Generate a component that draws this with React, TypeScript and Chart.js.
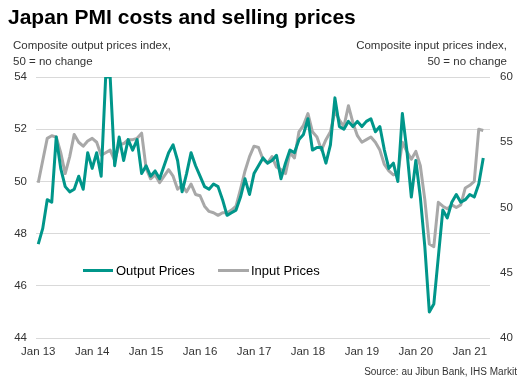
import React, { useEffect, useRef } from "react";
import { Chart, registerables } from "chart.js";

Chart.register(...registerables);

const titleText = "Japan PMI costs and selling prices";
const leftAxisTitle = ["Composite output prices index,", "50 = no change"];
const rightAxisTitle = ["Composite input prices index,", "50 = no change"];
const sourceText = "Source: au Jibun Bank, IHS Markit";
const seriesNames = ["Output Prices", "Input Prices"];

const startYear = 2013;
const monthNames = ["Jan", "Feb", "Mar", "Apr", "May", "Jun", "Jul", "Aug", "Sep", "Oct", "Nov", "Dec"];

// Composite output prices index (left axis), Jan 2013 - Apr 2021
const outputPrices = [
  47.6, 48.2, 49.3, 49.2, 51.7, 50.5, 49.8, 49.6, 49.7, 50.2, 49.7, 51.1,
  50.5, 51.1, 50.2, 54.0, 54.0, 50.6, 51.7, 50.8, 51.6, 51.2, 51.6, 50.3,
  50.6, 50.2, 50.4, 50.1, 50.6, 51.1, 51.4, 50.8, 49.6, 50.3, 51.1, 50.6,
  50.2, 49.8, 49.7, 49.9, 49.8, 49.3, 48.7, 48.8, 48.9, 49.4, 50.1, 49.5,
  50.3, 50.6, 50.9, 50.7, 50.8, 51.0, 50.1, 50.7, 51.2, 51.1, 51.6, 51.8,
  52.4, 51.2, 51.3, 51.3, 50.7, 51.4, 53.2, 52.1, 52.0, 52.3, 52.1, 52.3,
  52.1, 52.3, 52.4, 51.9, 52.1, 51.2, 50.5, 50.7, 50.0, 52.6, 51.2, 49.4,
  50.8, 49.4, 47.5, 45.0, 45.3, 47.1, 48.9, 48.6, 49.2, 49.5, 49.2, 49.3,
  49.5, 49.4, 49.9, 50.9,
];

// Composite input prices index (right axis), Jan 2013 - Apr 2021
const inputPrices = [
  51.9, 53.6, 55.3, 55.5, 55.4, 54.2, 52.6, 53.9, 55.6, 55.0, 54.7, 55.1,
  55.3, 55.0, 54.0, 54.2, 54.4, 53.6, 54.8, 54.9, 55.2, 55.2, 55.3, 55.7,
  53.0, 52.2, 52.5, 51.9, 52.4, 52.9, 52.4, 51.4, 51.7, 51.2, 51.8, 51.0,
  50.9, 50.1, 49.7, 49.6, 49.4, 49.6, 49.6, 49.8, 50.1, 51.4, 52.8, 53.9,
  54.7, 54.6, 53.7, 53.4, 53.9, 53.1, 52.9, 52.6, 54.2, 53.8, 55.8, 56.3,
  57.2, 55.8, 55.4, 54.4, 55.2, 55.8, 57.4, 56.7, 56.2, 57.8, 56.5, 55.5,
  55.0, 55.2, 55.4, 55.0, 54.4, 53.3, 52.8, 52.5, 52.6, 55.0, 54.3, 53.7,
  54.3, 53.2, 50.6, 47.2, 47.0, 50.4, 50.1, 49.9, 50.2, 50.0, 50.2, 51.5,
  51.7, 52.0, 56.0, 55.9,
];

const leftTicks = { min: 44, max: 54, step: 2 };
const rightTicks = { min: 40, max: 60, step: 5 };

// month categories (one trailing month of axis space after the last data point)
const months = Array.from({ length: outputPrices.length + 1 }, (_, i) =>
  `${monthNames[i % 12]} ${String((startYear + Math.floor(i / 12)) % 100).padStart(2, "0")}`
);

const FONT = "'Liberation Sans', Arial, Helvetica, sans-serif";
const TEAL = "#00968A";
const GREY = "#A8A8A8";
const TEXT = "#333333";

export default function App() {
  const canvasRef = useRef<HTMLCanvasElement | null>(null);

  useEffect(() => {
    const canvas = canvasRef.current;
    if (!canvas) return;
    const chart = new Chart(canvas, {
      type: "line",
      data: {
        labels: months,
        datasets: [
          {
            label: seriesNames[0],
            data: outputPrices,
            yAxisID: "y",
            borderColor: TEAL,
            backgroundColor: TEAL,
            borderWidth: 3,
            pointRadius: 0,
            tension: 0,
            borderJoinStyle: "round",
          },
          {
            label: seriesNames[1],
            data: inputPrices,
            yAxisID: "y2",
            borderColor: GREY,
            backgroundColor: GREY,
            borderWidth: 3,
            pointRadius: 0,
            tension: 0,
            borderJoinStyle: "round",
          },
        ],
      },
      options: {
        animation: false,
        responsive: false,
        maintainAspectRatio: false,
        layout: { padding: { top: 77, left: 0, right: 0, bottom: 0 } },
        plugins: {
          legend: { display: false },
          tooltip: { enabled: false },
          title: { display: false },
        },
        scales: {
          x: {
            type: "category",
            offset: true,
            grid: { display: false, drawTicks: false },
            border: { display: false },
            ticks: {
              autoSkip: false,
              maxRotation: 0,
              minRotation: 0,
              padding: 7,
              color: TEXT,
              font: { family: FONT, size: 11.5 },
              callback: (_v: any, index: number) => {
                const l = months[index];
                return l && l.startsWith("Jan") ? l : "";
              },
            },
            afterFit: (scale: any) => {
              scale.height = 51;
            },
          },
          y: {
            position: "left",
            min: leftTicks.min,
            max: leftTicks.max,
            grid: { color: "#d9d9d9", lineWidth: 1, drawTicks: false },
            border: { display: false },
            ticks: {
              stepSize: leftTicks.step,
              padding: 9,
              color: TEXT,
              font: { family: FONT, size: 11.5 },
            },
            afterFit: (scale: any) => {
              scale.width = 36;
            },
          },
          y2: {
            position: "right",
            min: rightTicks.min,
            max: rightTicks.max,
            grid: { display: false, drawTicks: false },
            border: { display: false },
            ticks: {
              stepSize: rightTicks.step,
              padding: 10,
              color: TEXT,
              font: { family: FONT, size: 11.5 },
            },
            afterFit: (scale: any) => {
              scale.width = 38;
            },
          },
        },
      },
    } as any);
    return () => chart.destroy();
  }, []);

  const abs = (s: React.CSSProperties): React.CSSProperties => ({
    position: "absolute",
    whiteSpace: "nowrap",
    fontFamily: FONT,
    margin: 0,
    ...s,
  });

  return (
    <div
      style={{
        position: "fixed",
        left: 0,
        top: 0,
        width: 528,
        height: 389,
        background: "#ffffff",
        overflow: "hidden",
      }}
    >
      <canvas
        ref={canvasRef}
        width={528}
        height={389}
        style={{ position: "absolute", left: 0, top: 0, width: 528, height: 389 }}
      />
      <div style={abs({ left: 8, top: 5.5, fontSize: 21, lineHeight: "21px", fontWeight: 700, color: "#000" })}>
        {titleText}
      </div>
      <div style={abs({ left: 13, top: 39.6, fontSize: 11.5, lineHeight: "11.5px", color: TEXT })}>
        {leftAxisTitle[0]}
      </div>
      <div style={abs({ left: 13, top: 56, fontSize: 11.5, lineHeight: "11.5px", color: TEXT })}>
        {leftAxisTitle[1]}
      </div>
      <div style={abs({ right: 21, top: 39.6, fontSize: 11.5, lineHeight: "11.5px", color: TEXT, textAlign: "right" })}>
        {rightAxisTitle[0]}
      </div>
      <div style={abs({ right: 21, top: 56, fontSize: 11.5, lineHeight: "11.5px", color: TEXT, textAlign: "right" })}>
        {rightAxisTitle[1]}
      </div>
      {/* legend */}
      <div style={abs({ left: 83, top: 269, width: 30, height: 3, background: TEAL })} />
      <div style={abs({ left: 116, top: 264.3, fontSize: 13, lineHeight: "13px", color: "#000" })}>
        {seriesNames[0]}
      </div>
      <div style={abs({ left: 218, top: 269, width: 31, height: 3, background: GREY })} />
      <div style={abs({ left: 251, top: 264.3, fontSize: 13, lineHeight: "13px", color: "#000" })}>
        {seriesNames[1]}
      </div>
      <div style={abs({ right: 11, top: 366.8, fontSize: 10, lineHeight: "10px", color: TEXT, textAlign: "right" })}>
        {sourceText}
      </div>
    </div>
  );
}
